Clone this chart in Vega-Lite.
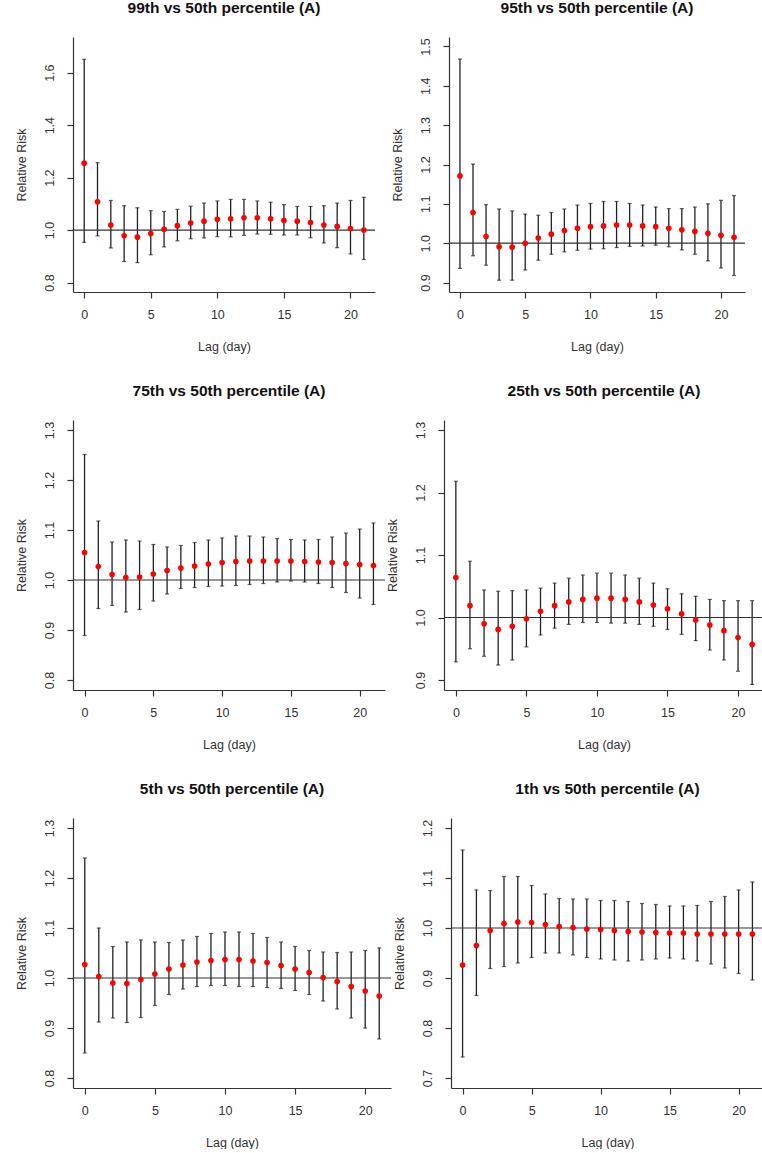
{
  "$schema": "https://vega.github.io/schema/vega-lite/v6.json",
  "background": "white",
  "padding": {"left": 15, "top": 0, "right": 0, "bottom": 0},
  "datasets": {
    "rr": [
      {"panel": "99th", "lag": 0, "rr": 1.255, "lower": 0.953, "upper": 1.651},
      {"panel": "99th", "lag": 1, "rr": 1.108, "lower": 0.978, "upper": 1.257},
      {"panel": "99th", "lag": 2, "rr": 1.019, "lower": 0.932, "upper": 1.113},
      {"panel": "99th", "lag": 3, "rr": 0.978, "lower": 0.880, "upper": 1.093},
      {"panel": "99th", "lag": 4, "rr": 0.973, "lower": 0.876, "upper": 1.085},
      {"panel": "99th", "lag": 5, "rr": 0.987, "lower": 0.906, "upper": 1.074},
      {"panel": "99th", "lag": 6, "rr": 1.003, "lower": 0.936, "upper": 1.071},
      {"panel": "99th", "lag": 7, "rr": 1.017, "lower": 0.959, "upper": 1.079},
      {"panel": "99th", "lag": 8, "rr": 1.027, "lower": 0.967, "upper": 1.091},
      {"panel": "99th", "lag": 9, "rr": 1.034, "lower": 0.970, "upper": 1.103},
      {"panel": "99th", "lag": 10, "rr": 1.041, "lower": 0.975, "upper": 1.111},
      {"panel": "99th", "lag": 11, "rr": 1.043, "lower": 0.974, "upper": 1.117},
      {"panel": "99th", "lag": 12, "rr": 1.047, "lower": 0.980, "upper": 1.117},
      {"panel": "99th", "lag": 13, "rr": 1.047, "lower": 0.985, "upper": 1.111},
      {"panel": "99th", "lag": 14, "rr": 1.043, "lower": 0.984, "upper": 1.106},
      {"panel": "99th", "lag": 15, "rr": 1.037, "lower": 0.981, "upper": 1.097},
      {"panel": "99th", "lag": 16, "rr": 1.034, "lower": 0.981, "upper": 1.090},
      {"panel": "99th", "lag": 17, "rr": 1.029, "lower": 0.971, "upper": 1.090},
      {"panel": "99th", "lag": 18, "rr": 1.019, "lower": 0.951, "upper": 1.093},
      {"panel": "99th", "lag": 19, "rr": 1.014, "lower": 0.933, "upper": 1.103},
      {"panel": "99th", "lag": 20, "rr": 1.006, "lower": 0.909, "upper": 1.113},
      {"panel": "99th", "lag": 21, "rr": 1.000, "lower": 0.888, "upper": 1.125},

      {"panel": "95th", "lag": 0, "rr": 1.171, "lower": 0.936, "upper": 1.468},
      {"panel": "95th", "lag": 1, "rr": 1.078, "lower": 0.968, "upper": 1.201},
      {"panel": "95th", "lag": 2, "rr": 1.017, "lower": 0.944, "upper": 1.098},
      {"panel": "95th", "lag": 3, "rr": 0.991, "lower": 0.906, "upper": 1.087},
      {"panel": "95th", "lag": 4, "rr": 0.990, "lower": 0.906, "upper": 1.082},
      {"panel": "95th", "lag": 5, "rr": 1.000, "lower": 0.932, "upper": 1.074},
      {"panel": "95th", "lag": 6, "rr": 1.013, "lower": 0.957, "upper": 1.071},
      {"panel": "95th", "lag": 7, "rr": 1.023, "lower": 0.972, "upper": 1.078},
      {"panel": "95th", "lag": 8, "rr": 1.032, "lower": 0.978, "upper": 1.087},
      {"panel": "95th", "lag": 9, "rr": 1.038, "lower": 0.982, "upper": 1.097},
      {"panel": "95th", "lag": 10, "rr": 1.042, "lower": 0.985, "upper": 1.101},
      {"panel": "95th", "lag": 11, "rr": 1.044, "lower": 0.986, "upper": 1.106},
      {"panel": "95th", "lag": 12, "rr": 1.046, "lower": 0.989, "upper": 1.106},
      {"panel": "95th", "lag": 13, "rr": 1.046, "lower": 0.992, "upper": 1.101},
      {"panel": "95th", "lag": 14, "rr": 1.044, "lower": 0.993, "upper": 1.097},
      {"panel": "95th", "lag": 15, "rr": 1.042, "lower": 0.995, "upper": 1.092},
      {"panel": "95th", "lag": 16, "rr": 1.038, "lower": 0.991, "upper": 1.088},
      {"panel": "95th", "lag": 17, "rr": 1.034, "lower": 0.983, "upper": 1.088},
      {"panel": "95th", "lag": 18, "rr": 1.030, "lower": 0.972, "upper": 1.092},
      {"panel": "95th", "lag": 19, "rr": 1.025, "lower": 0.955, "upper": 1.100},
      {"panel": "95th", "lag": 20, "rr": 1.020, "lower": 0.937, "upper": 1.109},
      {"panel": "95th", "lag": 21, "rr": 1.015, "lower": 0.918, "upper": 1.121},

      {"panel": "75th", "lag": 0, "rr": 1.055, "lower": 0.889, "upper": 1.251},
      {"panel": "75th", "lag": 1, "rr": 1.027, "lower": 0.943, "upper": 1.118},
      {"panel": "75th", "lag": 2, "rr": 1.011, "lower": 0.949, "upper": 1.076},
      {"panel": "75th", "lag": 3, "rr": 1.005, "lower": 0.936, "upper": 1.080},
      {"panel": "75th", "lag": 4, "rr": 1.006, "lower": 0.941, "upper": 1.078},
      {"panel": "75th", "lag": 5, "rr": 1.012, "lower": 0.958, "upper": 1.071},
      {"panel": "75th", "lag": 6, "rr": 1.019, "lower": 0.972, "upper": 1.066},
      {"panel": "75th", "lag": 7, "rr": 1.024, "lower": 0.983, "upper": 1.069},
      {"panel": "75th", "lag": 8, "rr": 1.028, "lower": 0.985, "upper": 1.075},
      {"panel": "75th", "lag": 9, "rr": 1.032, "lower": 0.987, "upper": 1.080},
      {"panel": "75th", "lag": 10, "rr": 1.035, "lower": 0.988, "upper": 1.084},
      {"panel": "75th", "lag": 11, "rr": 1.037, "lower": 0.989, "upper": 1.088},
      {"panel": "75th", "lag": 12, "rr": 1.038, "lower": 0.991, "upper": 1.088},
      {"panel": "75th", "lag": 13, "rr": 1.038, "lower": 0.993, "upper": 1.086},
      {"panel": "75th", "lag": 14, "rr": 1.038, "lower": 0.996, "upper": 1.083},
      {"panel": "75th", "lag": 15, "rr": 1.038, "lower": 0.998, "upper": 1.081},
      {"panel": "75th", "lag": 16, "rr": 1.037, "lower": 0.996, "upper": 1.080},
      {"panel": "75th", "lag": 17, "rr": 1.036, "lower": 0.993, "upper": 1.081},
      {"panel": "75th", "lag": 18, "rr": 1.035, "lower": 0.985, "upper": 1.086},
      {"panel": "75th", "lag": 19, "rr": 1.033, "lower": 0.975, "upper": 1.094},
      {"panel": "75th", "lag": 20, "rr": 1.031, "lower": 0.964, "upper": 1.102},
      {"panel": "75th", "lag": 21, "rr": 1.029, "lower": 0.951, "upper": 1.114},

      {"panel": "25th", "lag": 0, "rr": 1.064, "lower": 0.929, "upper": 1.218},
      {"panel": "25th", "lag": 1, "rr": 1.019, "lower": 0.950, "upper": 1.090},
      {"panel": "25th", "lag": 2, "rr": 0.990, "lower": 0.938, "upper": 1.044},
      {"panel": "25th", "lag": 3, "rr": 0.981, "lower": 0.924, "upper": 1.042},
      {"panel": "25th", "lag": 4, "rr": 0.986, "lower": 0.932, "upper": 1.043},
      {"panel": "25th", "lag": 5, "rr": 0.998, "lower": 0.953, "upper": 1.044},
      {"panel": "25th", "lag": 6, "rr": 1.010, "lower": 0.972, "upper": 1.047},
      {"panel": "25th", "lag": 7, "rr": 1.019, "lower": 0.983, "upper": 1.055},
      {"panel": "25th", "lag": 8, "rr": 1.025, "lower": 0.989, "upper": 1.063},
      {"panel": "25th", "lag": 9, "rr": 1.029, "lower": 0.992, "upper": 1.068},
      {"panel": "25th", "lag": 10, "rr": 1.031, "lower": 0.992, "upper": 1.071},
      {"panel": "25th", "lag": 11, "rr": 1.031, "lower": 0.991, "upper": 1.071},
      {"panel": "25th", "lag": 12, "rr": 1.029, "lower": 0.991, "upper": 1.068},
      {"panel": "25th", "lag": 13, "rr": 1.025, "lower": 0.989, "upper": 1.063},
      {"panel": "25th", "lag": 14, "rr": 1.020, "lower": 0.986, "upper": 1.055},
      {"panel": "25th", "lag": 15, "rr": 1.014, "lower": 0.981, "upper": 1.046},
      {"panel": "25th", "lag": 16, "rr": 1.006, "lower": 0.973, "upper": 1.038},
      {"panel": "25th", "lag": 17, "rr": 0.996, "lower": 0.963, "upper": 1.034},
      {"panel": "25th", "lag": 18, "rr": 0.988, "lower": 0.948, "upper": 1.029},
      {"panel": "25th", "lag": 19, "rr": 0.979, "lower": 0.932, "upper": 1.027},
      {"panel": "25th", "lag": 20, "rr": 0.968, "lower": 0.914, "upper": 1.027},
      {"panel": "25th", "lag": 21, "rr": 0.957, "lower": 0.893, "upper": 1.027},

      {"panel": "5th", "lag": 0, "rr": 1.027, "lower": 0.850, "upper": 1.240},
      {"panel": "5th", "lag": 1, "rr": 1.003, "lower": 0.912, "upper": 1.100},
      {"panel": "5th", "lag": 2, "rr": 0.990, "lower": 0.920, "upper": 1.063},
      {"panel": "5th", "lag": 3, "rr": 0.989, "lower": 0.911, "upper": 1.072},
      {"panel": "5th", "lag": 4, "rr": 0.997, "lower": 0.921, "upper": 1.076},
      {"panel": "5th", "lag": 5, "rr": 1.008, "lower": 0.945, "upper": 1.072},
      {"panel": "5th", "lag": 6, "rr": 1.018, "lower": 0.967, "upper": 1.071},
      {"panel": "5th", "lag": 7, "rr": 1.026, "lower": 0.978, "upper": 1.076},
      {"panel": "5th", "lag": 8, "rr": 1.032, "lower": 0.983, "upper": 1.083},
      {"panel": "5th", "lag": 9, "rr": 1.035, "lower": 0.985, "upper": 1.089},
      {"panel": "5th", "lag": 10, "rr": 1.037, "lower": 0.985, "upper": 1.092},
      {"panel": "5th", "lag": 11, "rr": 1.037, "lower": 0.983, "upper": 1.092},
      {"panel": "5th", "lag": 12, "rr": 1.034, "lower": 0.983, "upper": 1.089},
      {"panel": "5th", "lag": 13, "rr": 1.031, "lower": 0.981, "upper": 1.081},
      {"panel": "5th", "lag": 14, "rr": 1.025, "lower": 0.979, "upper": 1.072},
      {"panel": "5th", "lag": 15, "rr": 1.018, "lower": 0.975, "upper": 1.063},
      {"panel": "5th", "lag": 16, "rr": 1.011, "lower": 0.967, "upper": 1.055},
      {"panel": "5th", "lag": 17, "rr": 1.001, "lower": 0.954, "upper": 1.052},
      {"panel": "5th", "lag": 18, "rr": 0.993, "lower": 0.938, "upper": 1.051},
      {"panel": "5th", "lag": 19, "rr": 0.983, "lower": 0.920, "upper": 1.052},
      {"panel": "5th", "lag": 20, "rr": 0.974, "lower": 0.900, "upper": 1.055},
      {"panel": "5th", "lag": 21, "rr": 0.964, "lower": 0.878, "upper": 1.060},

      {"panel": "1th", "lag": 0, "rr": 0.926, "lower": 0.742, "upper": 1.156},
      {"panel": "1th", "lag": 1, "rr": 0.965, "lower": 0.865, "upper": 1.076},
      {"panel": "1th", "lag": 2, "rr": 0.995, "lower": 0.919, "upper": 1.075},
      {"panel": "1th", "lag": 3, "rr": 1.009, "lower": 0.923, "upper": 1.103},
      {"panel": "1th", "lag": 4, "rr": 1.012, "lower": 0.930, "upper": 1.103},
      {"panel": "1th", "lag": 5, "rr": 1.011, "lower": 0.941, "upper": 1.085},
      {"panel": "1th", "lag": 6, "rr": 1.007, "lower": 0.950, "upper": 1.068},
      {"panel": "1th", "lag": 7, "rr": 1.003, "lower": 0.950, "upper": 1.059},
      {"panel": "1th", "lag": 8, "rr": 1.001, "lower": 0.946, "upper": 1.058},
      {"panel": "1th", "lag": 9, "rr": 0.998, "lower": 0.941, "upper": 1.058},
      {"panel": "1th", "lag": 10, "rr": 0.997, "lower": 0.938, "upper": 1.055},
      {"panel": "1th", "lag": 11, "rr": 0.995, "lower": 0.936, "upper": 1.055},
      {"panel": "1th", "lag": 12, "rr": 0.993, "lower": 0.934, "upper": 1.053},
      {"panel": "1th", "lag": 13, "rr": 0.992, "lower": 0.936, "upper": 1.049},
      {"panel": "1th", "lag": 14, "rr": 0.991, "lower": 0.938, "upper": 1.047},
      {"panel": "1th", "lag": 15, "rr": 0.990, "lower": 0.940, "upper": 1.044},
      {"panel": "1th", "lag": 16, "rr": 0.990, "lower": 0.938, "upper": 1.044},
      {"panel": "1th", "lag": 17, "rr": 0.988, "lower": 0.934, "upper": 1.045},
      {"panel": "1th", "lag": 18, "rr": 0.988, "lower": 0.928, "upper": 1.053},
      {"panel": "1th", "lag": 19, "rr": 0.988, "lower": 0.920, "upper": 1.063},
      {"panel": "1th", "lag": 20, "rr": 0.988, "lower": 0.909, "upper": 1.076},
      {"panel": "1th", "lag": 21, "rr": 0.988, "lower": 0.896, "upper": 1.092}
    ],
    "ref": [{"ref": 1}]
  },
  "vconcat": [
    {
      "hconcat": [
        {
          "title": "99th vs 50th percentile (A)",
          "width": 302, "height": 255,
          "layer": [
            {"data": {"name": "rr"}, "transform": [{"filter": {"field": "panel", "equal": "99th"}}], "mark": {"type": "rule", "color": "#222", "strokeWidth": 1.3}, "encoding": {"x": {"field": "lag", "type": "quantitative", "title": "Lag (day)", "scale": {"domain": [-0.84, 21.84], "nice": false, "zero": false}, "axis": {"values": [0, 5, 10, 15, 20], "format": "d"}}, "y": {"field": "lower", "type": "quantitative", "title": "Relative Risk", "scale": {"domain": [0.764, 1.736], "nice": false, "zero": false}, "axis": {"values": [0.8, 1.0, 1.2, 1.4, 1.6], "format": ".1f"}}, "y2": {"field": "upper"}}},
            {"data": {"name": "rr"}, "transform": [{"filter": {"field": "panel", "equal": "99th"}}], "mark": {"type": "tick", "orient": "horizontal", "size": 4, "thickness": 1.2, "color": "#222"}, "encoding": {"x": {"field": "lag", "type": "quantitative", "title": "Lag (day)"}, "y": {"field": "lower", "type": "quantitative", "title": "Relative Risk"}}},
            {"data": {"name": "rr"}, "transform": [{"filter": {"field": "panel", "equal": "99th"}}], "mark": {"type": "tick", "orient": "horizontal", "size": 4, "thickness": 1.2, "color": "#222"}, "encoding": {"x": {"field": "lag", "type": "quantitative", "title": "Lag (day)"}, "y": {"field": "upper", "type": "quantitative", "title": "Relative Risk"}}},
            {"data": {"name": "ref"}, "mark": {"type": "rule", "color": "#333", "strokeWidth": 1.2}, "encoding": {"y": {"field": "ref", "type": "quantitative", "title": "Relative Risk"}}},
            {"data": {"name": "rr"}, "transform": [{"filter": {"field": "panel", "equal": "99th"}}], "mark": {"type": "circle", "color": "#ff0000", "size": 32, "opacity": 1}, "encoding": {"x": {"field": "lag", "type": "quantitative", "title": "Lag (day)"}, "y": {"field": "rr", "type": "quantitative", "title": "Relative Risk"}}}
          ]
        },
        {
          "title": "95th vs 50th percentile (A)",
          "width": 296, "height": 255,
          "layer": [
            {"data": {"name": "rr"}, "transform": [{"filter": {"field": "panel", "equal": "95th"}}], "mark": {"type": "rule", "color": "#222", "strokeWidth": 1.3}, "encoding": {"x": {"field": "lag", "type": "quantitative", "title": "Lag (day)", "scale": {"domain": [-0.84, 21.84], "nice": false, "zero": false}, "axis": {"values": [0, 5, 10, 15, 20], "format": "d"}}, "y": {"field": "lower", "type": "quantitative", "title": "Relative Risk", "scale": {"domain": [0.876, 1.524], "nice": false, "zero": false}, "axis": {"values": [0.9, 1.0, 1.1, 1.2, 1.3, 1.4, 1.5], "format": ".1f"}}, "y2": {"field": "upper"}}},
            {"data": {"name": "rr"}, "transform": [{"filter": {"field": "panel", "equal": "95th"}}], "mark": {"type": "tick", "orient": "horizontal", "size": 4, "thickness": 1.2, "color": "#222"}, "encoding": {"x": {"field": "lag", "type": "quantitative", "title": "Lag (day)"}, "y": {"field": "lower", "type": "quantitative", "title": "Relative Risk"}}},
            {"data": {"name": "rr"}, "transform": [{"filter": {"field": "panel", "equal": "95th"}}], "mark": {"type": "tick", "orient": "horizontal", "size": 4, "thickness": 1.2, "color": "#222"}, "encoding": {"x": {"field": "lag", "type": "quantitative", "title": "Lag (day)"}, "y": {"field": "upper", "type": "quantitative", "title": "Relative Risk"}}},
            {"data": {"name": "ref"}, "mark": {"type": "rule", "color": "#333", "strokeWidth": 1.2}, "encoding": {"y": {"field": "ref", "type": "quantitative", "title": "Relative Risk"}}},
            {"data": {"name": "rr"}, "transform": [{"filter": {"field": "panel", "equal": "95th"}}], "mark": {"type": "circle", "color": "#ff0000", "size": 32, "opacity": 1}, "encoding": {"x": {"field": "lag", "type": "quantitative", "title": "Lag (day)"}, "y": {"field": "rr", "type": "quantitative", "title": "Relative Risk"}}}
          ]
        }
      ],
      "spacing": 15
    },
    {
      "hconcat": [
        {
          "title": "75th vs 50th percentile (A)",
          "width": 312, "height": 270,
          "layer": [
            {"data": {"name": "rr"}, "transform": [{"filter": {"field": "panel", "equal": "75th"}}], "mark": {"type": "rule", "color": "#222", "strokeWidth": 1.3}, "encoding": {"x": {"field": "lag", "type": "quantitative", "title": "Lag (day)", "scale": {"domain": [-0.84, 21.84], "nice": false, "zero": false}, "axis": {"values": [0, 5, 10, 15, 20], "format": "d"}}, "y": {"field": "lower", "type": "quantitative", "title": "Relative Risk", "scale": {"domain": [0.78, 1.32], "nice": false, "zero": false}, "axis": {"values": [0.8, 0.9, 1.0, 1.1, 1.2, 1.3], "format": ".1f"}}, "y2": {"field": "upper"}}},
            {"data": {"name": "rr"}, "transform": [{"filter": {"field": "panel", "equal": "75th"}}], "mark": {"type": "tick", "orient": "horizontal", "size": 4, "thickness": 1.2, "color": "#222"}, "encoding": {"x": {"field": "lag", "type": "quantitative", "title": "Lag (day)"}, "y": {"field": "lower", "type": "quantitative", "title": "Relative Risk"}}},
            {"data": {"name": "rr"}, "transform": [{"filter": {"field": "panel", "equal": "75th"}}], "mark": {"type": "tick", "orient": "horizontal", "size": 4, "thickness": 1.2, "color": "#222"}, "encoding": {"x": {"field": "lag", "type": "quantitative", "title": "Lag (day)"}, "y": {"field": "upper", "type": "quantitative", "title": "Relative Risk"}}},
            {"data": {"name": "ref"}, "mark": {"type": "rule", "color": "#333", "strokeWidth": 1.2}, "encoding": {"y": {"field": "ref", "type": "quantitative", "title": "Relative Risk"}}},
            {"data": {"name": "rr"}, "transform": [{"filter": {"field": "panel", "equal": "75th"}}], "mark": {"type": "circle", "color": "#ff0000", "size": 32, "opacity": 1}, "encoding": {"x": {"field": "lag", "type": "quantitative", "title": "Lag (day)"}, "y": {"field": "rr", "type": "quantitative", "title": "Relative Risk"}}}
          ]
        },
        {
          "title": "25th vs 50th percentile (A)",
          "width": 320, "height": 270,
          "layer": [
            {"data": {"name": "rr"}, "transform": [{"filter": {"field": "panel", "equal": "25th"}}], "mark": {"type": "rule", "color": "#222", "strokeWidth": 1.3}, "encoding": {"x": {"field": "lag", "type": "quantitative", "title": "Lag (day)", "scale": {"domain": [-0.84, 21.84], "nice": false, "zero": false}, "axis": {"values": [0, 5, 10, 15, 20], "format": "d"}}, "y": {"field": "lower", "type": "quantitative", "title": "Relative Risk", "scale": {"domain": [0.884, 1.316], "nice": false, "zero": false}, "axis": {"values": [0.9, 1.0, 1.1, 1.2, 1.3], "format": ".1f"}}, "y2": {"field": "upper"}}},
            {"data": {"name": "rr"}, "transform": [{"filter": {"field": "panel", "equal": "25th"}}], "mark": {"type": "tick", "orient": "horizontal", "size": 4, "thickness": 1.2, "color": "#222"}, "encoding": {"x": {"field": "lag", "type": "quantitative", "title": "Lag (day)"}, "y": {"field": "lower", "type": "quantitative", "title": "Relative Risk"}}},
            {"data": {"name": "rr"}, "transform": [{"filter": {"field": "panel", "equal": "25th"}}], "mark": {"type": "tick", "orient": "horizontal", "size": 4, "thickness": 1.2, "color": "#222"}, "encoding": {"x": {"field": "lag", "type": "quantitative", "title": "Lag (day)"}, "y": {"field": "upper", "type": "quantitative", "title": "Relative Risk"}}},
            {"data": {"name": "ref"}, "mark": {"type": "rule", "color": "#333", "strokeWidth": 1.2}, "encoding": {"y": {"field": "ref", "type": "quantitative", "title": "Relative Risk"}}},
            {"data": {"name": "rr"}, "transform": [{"filter": {"field": "panel", "equal": "25th"}}], "mark": {"type": "circle", "color": "#ff0000", "size": 32, "opacity": 1}, "encoding": {"x": {"field": "lag", "type": "quantitative", "title": "Lag (day)"}, "y": {"field": "rr", "type": "quantitative", "title": "Relative Risk"}}}
          ]
        }
      ],
      "spacing": 0
    },
    {
      "hconcat": [
        {
          "title": "5th vs 50th percentile (A)",
          "width": 318, "height": 270,
          "layer": [
            {"data": {"name": "rr"}, "transform": [{"filter": {"field": "panel", "equal": "5th"}}], "mark": {"type": "rule", "color": "#222", "strokeWidth": 1.3}, "encoding": {"x": {"field": "lag", "type": "quantitative", "title": "Lag (day)", "scale": {"domain": [-0.84, 21.84], "nice": false, "zero": false}, "axis": {"values": [0, 5, 10, 15, 20], "format": "d"}}, "y": {"field": "lower", "type": "quantitative", "title": "Relative Risk", "scale": {"domain": [0.78, 1.32], "nice": false, "zero": false}, "axis": {"values": [0.8, 0.9, 1.0, 1.1, 1.2, 1.3], "format": ".1f"}}, "y2": {"field": "upper"}}},
            {"data": {"name": "rr"}, "transform": [{"filter": {"field": "panel", "equal": "5th"}}], "mark": {"type": "tick", "orient": "horizontal", "size": 4, "thickness": 1.2, "color": "#222"}, "encoding": {"x": {"field": "lag", "type": "quantitative", "title": "Lag (day)"}, "y": {"field": "lower", "type": "quantitative", "title": "Relative Risk"}}},
            {"data": {"name": "rr"}, "transform": [{"filter": {"field": "panel", "equal": "5th"}}], "mark": {"type": "tick", "orient": "horizontal", "size": 4, "thickness": 1.2, "color": "#222"}, "encoding": {"x": {"field": "lag", "type": "quantitative", "title": "Lag (day)"}, "y": {"field": "upper", "type": "quantitative", "title": "Relative Risk"}}},
            {"data": {"name": "ref"}, "mark": {"type": "rule", "color": "#333", "strokeWidth": 1.2}, "encoding": {"y": {"field": "ref", "type": "quantitative", "title": "Relative Risk"}}},
            {"data": {"name": "rr"}, "transform": [{"filter": {"field": "panel", "equal": "5th"}}], "mark": {"type": "circle", "color": "#ff0000", "size": 32, "opacity": 1}, "encoding": {"x": {"field": "lag", "type": "quantitative", "title": "Lag (day)"}, "y": {"field": "rr", "type": "quantitative", "title": "Relative Risk"}}}
          ]
        },
        {
          "title": "1th vs 50th percentile (A)",
          "width": 313, "height": 270,
          "layer": [
            {"data": {"name": "rr"}, "transform": [{"filter": {"field": "panel", "equal": "1th"}}], "mark": {"type": "rule", "color": "#222", "strokeWidth": 1.3}, "encoding": {"x": {"field": "lag", "type": "quantitative", "title": "Lag (day)", "scale": {"domain": [-0.84, 21.84], "nice": false, "zero": false}, "axis": {"values": [0, 5, 10, 15, 20], "format": "d"}}, "y": {"field": "lower", "type": "quantitative", "title": "Relative Risk", "scale": {"domain": [0.68, 1.22], "nice": false, "zero": false}, "axis": {"values": [0.7, 0.8, 0.9, 1.0, 1.1, 1.2], "format": ".1f"}}, "y2": {"field": "upper"}}},
            {"data": {"name": "rr"}, "transform": [{"filter": {"field": "panel", "equal": "1th"}}], "mark": {"type": "tick", "orient": "horizontal", "size": 4, "thickness": 1.2, "color": "#222"}, "encoding": {"x": {"field": "lag", "type": "quantitative", "title": "Lag (day)"}, "y": {"field": "lower", "type": "quantitative", "title": "Relative Risk"}}},
            {"data": {"name": "rr"}, "transform": [{"filter": {"field": "panel", "equal": "1th"}}], "mark": {"type": "tick", "orient": "horizontal", "size": 4, "thickness": 1.2, "color": "#222"}, "encoding": {"x": {"field": "lag", "type": "quantitative", "title": "Lag (day)"}, "y": {"field": "upper", "type": "quantitative", "title": "Relative Risk"}}},
            {"data": {"name": "ref"}, "mark": {"type": "rule", "color": "#333", "strokeWidth": 1.2}, "encoding": {"y": {"field": "ref", "type": "quantitative", "title": "Relative Risk"}}},
            {"data": {"name": "rr"}, "transform": [{"filter": {"field": "panel", "equal": "1th"}}], "mark": {"type": "circle", "color": "#ff0000", "size": 32, "opacity": 1}, "encoding": {"x": {"field": "lag", "type": "quantitative", "title": "Lag (day)"}, "y": {"field": "rr", "type": "quantitative", "title": "Relative Risk"}}}
          ]
        }
      ],
      "spacing": 0
    }
  ],
  "spacing": 30,
  "config": {
    "view": {"stroke": null},
    "font": "Liberation Sans",
    "title": {"font": "Liberation Sans", "fontSize": 15.5, "fontWeight": "bold", "color": "#111", "offset": 21, "anchor": "middle"},
    "axis": {
      "grid": false,
      "domainColor": "#333", "tickColor": "#333", "labelColor": "#333", "titleColor": "#333",
      "labelFont": "Liberation Sans", "titleFont": "Liberation Sans",
      "labelFontSize": 12.5, "titleFontSize": 12.5, "titleFontWeight": "normal",
      "tickSize": 6, "domainWidth": 1.2, "tickWidth": 1.2
    },
    "axisX": {"labelPadding": 10, "titlePadding": 20, "labelAngle": 0},
    "axisY": {"labelAngle": -90, "labelPadding": 11, "titlePadding": 15, "labelAlign": "center", "labelBaseline": "bottom"}
  }
}
